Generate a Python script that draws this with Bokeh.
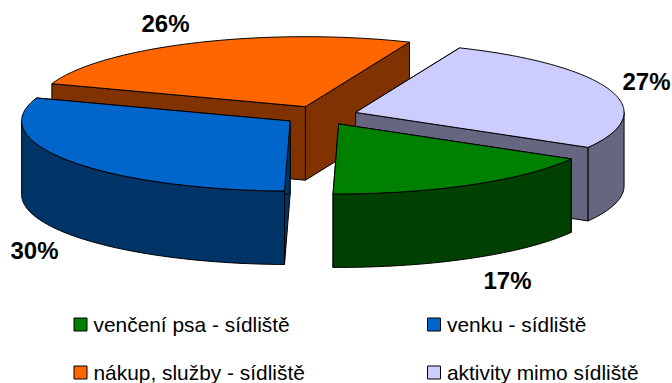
import math
from bokeh.plotting import figure
from bokeh.models import Range1d
from bokeh.core.properties import value
from bokeh.embed import file_html
from bokeh.resources import INLINE

categories = ["venčení psa - sídliště", "venku - sídliště", "nákup, služby - sídliště", "aktivity mimo sídliště"]
shares = [17, 30, 26, 27]
percent_labels = ["17%", "30%", "26%", "27%"]
top_colors = ["#008000", "#0066CC", "#FF6600", "#CCCCFF"]
side_colors = ["#004000", "#003366", "#803300", "#666680"]

# pie geometry in reference pixels
CX, CY = 320.0, 115.0
RX, RY = 268.5, 70.0
DEPTH = 73.5
EXPLODE = 37.0
START = -30.0
label_xy = [(507, 280), (34, 249.5), (165, 22.5), (646, 81)]
legend_xy = [(80, 324), (433.5, 324), (80, 372), (433.5, 372)]

p = figure(width=672, height=383, output_backend="svg", toolbar_location=None,
           x_range=Range1d(0, 672), y_range=Range1d(383, 0), min_border=0)
p.axis.visible = False
p.grid.visible = False
p.outline_line_color = None
p.background_fill_color = "white"
p.border_fill_color = "white"

# slice angles, clockwise from START
slices = []
a = START
for s in shares:
    b = a - s / sum(shares) * 360.0
    slices.append((a, b))
    a = b


def pt(apex, deg):
    r = math.radians(deg)
    return apex[0] + RX * math.cos(r), apex[1] - RY * math.sin(r)


def arc(apex, a0, a1):
    n = max(2, int(abs(a1 - a0)) + 1)
    return [pt(apex, a0 + (a1 - a0) * i / (n - 1)) for i in range(n)]


def poly(points, fill):
    p.patch([q[0] for q in points], [q[1] for q in points], fill_color=fill,
            line_color="black", line_width=1, line_join="round")


# back to front
for i in [2, 3, 1, 0]:
    a0, a1 = slices[i]
    mid = math.radians((a0 + a1) / 2)
    apex = (CX + EXPLODE * math.cos(mid), CY - EXPLODE * RY / RX * math.sin(mid))
    drop = (apex[0], apex[1] + DEPTH)
    # radial walls
    for ang in (a0, a1):
        e = pt(apex, ang)
        poly([apex, e, (e[0], e[1] + DEPTH), drop], side_colors[i])
    # outer wall: only the part of the rim facing the viewer
    for k in range(-2, 1):
        lo = max(a1, -180 + 360 * k)
        hi = min(a0, 0 + 360 * k)
        if hi > lo:
            rim = arc(apex, hi, lo)
            poly(rim + [(x, y + DEPTH) for x, y in reversed(rim)], side_colors[i])
    # top face
    poly([apex] + arc(apex, a0, a1), top_colors[i])

for (x, y), t in zip(label_xy, percent_labels):
    p.text([x], [y], text=[t], text_font=value("Liberation Sans"), text_font_style="bold",
           text_font_size="24px", text_align="center", text_baseline="middle", text_color="black")

for (x, y), t, c in zip(legend_xy, categories, top_colors):
    p.rect([x], [y], width=13, height=13, fill_color=c, line_color="black", line_width=1)
    p.text([x + 13], [y], text=[t], text_font=value("Liberation Sans"), text_font_size="20.9px",
           text_align="left", text_baseline="middle", text_color="black")

open("out.html", "w").write(file_html(p, INLINE))
